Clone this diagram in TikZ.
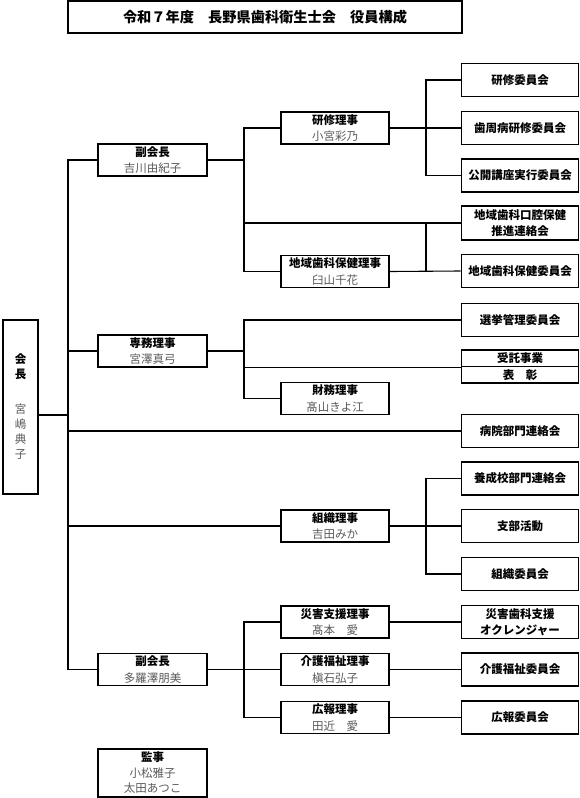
\documentclass[tikz,border=0pt]{standalone}
\usepackage{fontspec}
\setmainfont{Noto Sans CJK JP}
\begin{document}
\begin{tikzpicture}[x=1pt,y=-1pt,
  box/.style={draw, line width=1.1pt, inner sep=0pt, align=center, font=\fontsize{11.5}{16.5}\selectfont},
  rbox/.style={box, minimum width=117.5pt, minimum height=33pt, font=\fontsize{11.5}{16.5}\selectfont\bfseries},
  mbox/.style={box, minimum width=108pt, minimum height=32pt},
  lbox/.style={box, minimum width=109pt, minimum height=32pt},
  conn/.style={line width=1.1pt}]
\newcommand{\rolenm}[2]{\textbf{#1}\\\textcolor{black!65}{#2}}
\useasboundingbox (0,0) rectangle (580,798);
% title
\node[draw, line width=2pt, minimum width=394pt, minimum height=32pt, inner sep=0pt,
  font=\fontsize{14.2}{16}\selectfont\bfseries] (title) at (265,17) {令和７年度　長野県歯科衛生士会　役員構成};
% bus columns
\coordinate (c0) at (68,0);
\coordinate (c1) at (244,0);
\coordinate (c2) at (426,0);
\coordinate (kcy) at (0,415);
% chairman
\node[box, minimum width=35pt, minimum height=174pt, font=\fontsize{11.5}{15}\selectfont] (kaicho) at (20.5,407)
  {\textbf{会}\\\textbf{長}\\[20pt]\textcolor{black!65}{宮}\\\textcolor{black!65}{嶋}\\\textcolor{black!65}{典}\\\textcolor{black!65}{子}};
% left column
\node[lbox] (fk1) at (152.5,160) {\rolenm{副会長}{吉川由紀子}};
\node[lbox] (senmu) at (152.5,351) {\rolenm{専務理事}{宮澤真弓}};
\node[lbox] (fk2) at (152.5,669.5) {\rolenm{副会長}{多羅澤朋美}};
\node[box, minimum width=109pt, minimum height=48pt, font=\fontsize{11.5}{15.5}\selectfont] (kanji) at (152.5,773) {\textbf{監事}\\\textcolor{black!65}{小松雅子}\\\textcolor{black!65}{太田あつこ}};
% middle column
\node[mbox] (kenshuR) at (335,128) {\rolenm{研修理事}{小宮彩乃}};
\node[mbox] (chiikiR) at (335,271.5) {\rolenm{地域歯科保健理事}{臼山千花}};
\node[mbox] (zaimu) at (335,398.5) {\rolenm{財務理事}{髙山きよ江}};
\node[mbox] (soshikiR) at (335,526) {\rolenm{組織理事}{吉田みか}};
\node[mbox] (saigaiR) at (335,622) {\rolenm{災害支援理事}{髙本　愛}};
\node[mbox] (kaigoR) at (335,669.5) {\rolenm{介護福祉理事}{槇石弘子}};
\node[mbox] (kohoR) at (335,717.5) {\rolenm{広報理事}{田近　愛}};
% right column
\node[rbox] (k1) at (520,80) {研修委員会};
\node[rbox] (k2) at (520,128) {歯周病研修委員会};
\node[rbox] (k3) at (520,175.5) {公開講座実行委員会};
\node[rbox, minimum height=34pt] (suishin) at (520,223) {地域歯科口腔保健\\推進連絡会};
\node[rbox] (chiikiI) at (520,271) {地域歯科保健委員会};
\node[rbox] (senkyo) at (520,320) {選挙管理委員会};
\node[rbox, minimum height=16.5pt] (jutaku) at (520,358.25) {受託事業};
\node[rbox, minimum height=16.5pt] (hyosho) at (520,374.75) {表　彰};
\node[rbox] (byoin) at (520,431) {病院部門連絡会};
\node[rbox] (yosei) at (520,478.5) {養成校部門連絡会};
\node[rbox] (shibu) at (520,526) {支部活動};
\node[rbox] (soshikiI) at (520,574) {組織委員会};
\node[rbox] (saigaiI) at (520,622) {災害歯科支援\\オクレンジャー};
\node[rbox] (kaigoI) at (520,669.5) {介護福祉委員会};
\node[rbox] (kohoI) at (520,717.5) {広報委員会};
% trunk
\draw[conn] (kaicho.east |- kcy) -- (c0 |- kcy);
\draw[conn] (fk1.west) -- (fk1.west -| c0) -- (fk2.west -| c0) -- (fk2.west);
\draw[conn] (c0 |- senmu.west) -- (senmu.west);
\draw[conn] (c0 |- byoin.west) -- (byoin.west);
\draw[conn] (c0 |- soshikiR.west) -- (soshikiR.west);
% vice president 1
\draw[conn] (fk1.east) -- (fk1.east -| c1);
\draw[conn] (kenshuR.west) -- (kenshuR.west -| c1) -- (chiikiR.west -| c1) -- (chiikiR.west);
\draw[conn] (c1 |- suishin.west) -- (suishin.west);
\draw[conn] (kenshuR.east) -- (kenshuR.east -| c2);
\draw[conn] (k1.west) -- (k1.west -| c2) -- (k3.west -| c2) -- (k3.west);
\draw[conn] (c2 |- k2.west) -- (k2.west);
\draw[conn] (chiikiR.east) -- (chiikiI.west);
\draw[conn] (c2 |- suishin.west) -- (c2 |- chiikiI.west);
% senmu
\draw[conn] (senmu.east) -- (senmu.east -| c1);
\draw[conn] (senkyo.west) -- (senkyo.west -| c1) -- (zaimu.west -| c1) -- (zaimu.west);
\draw[conn] (c1 |- jutaku.south west) -- (jutaku.south west);
% soshiki
\draw[conn] (soshikiR.east) -- (soshikiR.east -| c2);
\draw[conn] (yosei.west) -- (yosei.west -| c2) -- (soshikiI.west -| c2) -- (soshikiI.west);
\draw[conn] (c2 |- shibu.west) -- (shibu.west);
% vice president 2
\draw[conn] (fk2.east) -- (fk2.east -| c1);
\draw[conn] (saigaiR.west) -- (saigaiR.west -| c1) -- (kohoR.west -| c1) -- (kohoR.west);
\draw[conn] (c1 |- kaigoR.west) -- (kaigoR.west);
\draw[conn] (saigaiR.east) -- (saigaiI.west);
\draw[conn] (kaigoR.east) -- (kaigoI.west);
\draw[conn] (kohoR.east) -- (kohoI.west);
\end{tikzpicture}
\end{document}
